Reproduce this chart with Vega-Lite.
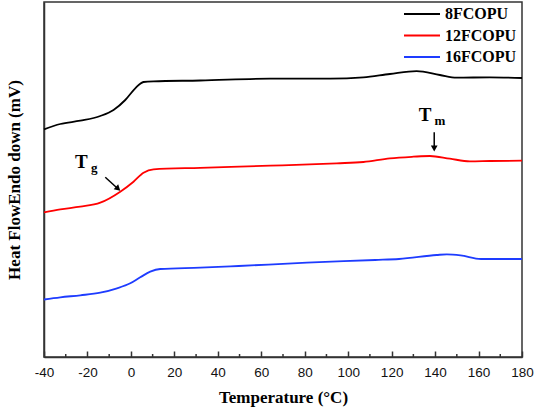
{
  "$schema": "https://vega.github.io/schema/vega-lite/v6.json",
  "autosize": {"type": "none"},
  "padding": {"left": 44, "top": 2, "right": 12, "bottom": 50},
  "width": 478,
  "height": 355,
  "background": "white",
  "config": {
    "view": {"stroke": "#333333", "strokeWidth": 1.5},
    "axis": {"domainColor": "#333333", "tickColor": "#333333", "domainWidth": 1.5, "tickWidth": 1.5, "grid": false}
  },
  "layer": [
    {
      "data": {"values": [
        {"sample": "8FCOPU", "T": -40, "v": 227.7},
        {"sample": "8FCOPU", "T": -32.5, "v": 233},
        {"sample": "8FCOPU", "T": -23.3, "v": 236.3},
        {"sample": "8FCOPU", "T": -14.1, "v": 241},
        {"sample": "8FCOPU", "T": -8.0, "v": 247},
        {"sample": "8FCOPU", "T": -2.6, "v": 257},
        {"sample": "8FCOPU", "T": 2.0, "v": 268.7},
        {"sample": "8FCOPU", "T": 5.8, "v": 275},
        {"sample": "8FCOPU", "T": 10.4, "v": 275.7},
        {"sample": "8FCOPU", "T": 31.9, "v": 276.5},
        {"sample": "8FCOPU", "T": 64.1, "v": 278.3},
        {"sample": "8FCOPU", "T": 91.7, "v": 278.3},
        {"sample": "8FCOPU", "T": 107.0, "v": 279.7},
        {"sample": "8FCOPU", "T": 119.2, "v": 283},
        {"sample": "8FCOPU", "T": 131.5, "v": 285.8},
        {"sample": "8FCOPU", "T": 142.2, "v": 282},
        {"sample": "8FCOPU", "T": 149.9, "v": 279.3},
        {"sample": "8FCOPU", "T": 165.2, "v": 279.7},
        {"sample": "8FCOPU", "T": 180, "v": 279},
        {"sample": "12FCOPU", "T": -40, "v": 144.7},
        {"sample": "12FCOPU", "T": -32.5, "v": 147.7},
        {"sample": "12FCOPU", "T": -23.3, "v": 150.3},
        {"sample": "12FCOPU", "T": -14.1, "v": 154.3},
        {"sample": "12FCOPU", "T": -4.9, "v": 165.3},
        {"sample": "12FCOPU", "T": 1.2, "v": 175.3},
        {"sample": "12FCOPU", "T": 5.8, "v": 184.3},
        {"sample": "12FCOPU", "T": 10.4, "v": 187.7},
        {"sample": "12FCOPU", "T": 31.9, "v": 189.2},
        {"sample": "12FCOPU", "T": 64.1, "v": 191.3},
        {"sample": "12FCOPU", "T": 94.7, "v": 193.7},
        {"sample": "12FCOPU", "T": 107.0, "v": 195},
        {"sample": "12FCOPU", "T": 119.2, "v": 198.7},
        {"sample": "12FCOPU", "T": 130.0, "v": 200.3},
        {"sample": "12FCOPU", "T": 137.6, "v": 201},
        {"sample": "12FCOPU", "T": 146.8, "v": 198.3},
        {"sample": "12FCOPU", "T": 156.0, "v": 195.7},
        {"sample": "12FCOPU", "T": 165.2, "v": 196},
        {"sample": "12FCOPU", "T": 180, "v": 196.3},
        {"sample": "16FCOPU", "T": -40, "v": 57.5},
        {"sample": "16FCOPU", "T": -32.5, "v": 59.7},
        {"sample": "16FCOPU", "T": -23.3, "v": 61.7},
        {"sample": "16FCOPU", "T": -14.1, "v": 64.3},
        {"sample": "16FCOPU", "T": -6.4, "v": 68.7},
        {"sample": "16FCOPU", "T": -0.3, "v": 73.7},
        {"sample": "16FCOPU", "T": 4.3, "v": 79.7},
        {"sample": "16FCOPU", "T": 8.9, "v": 85.3},
        {"sample": "16FCOPU", "T": 13.5, "v": 88},
        {"sample": "16FCOPU", "T": 31.9, "v": 89.3},
        {"sample": "16FCOPU", "T": 49.6, "v": 91},
        {"sample": "16FCOPU", "T": 81.0, "v": 94.3},
        {"sample": "16FCOPU", "T": 112.4, "v": 97},
        {"sample": "16FCOPU", "T": 123.4, "v": 98},
        {"sample": "16FCOPU", "T": 140.7, "v": 102},
        {"sample": "16FCOPU", "T": 145.4, "v": 102.7},
        {"sample": "16FCOPU", "T": 151.7, "v": 101.7},
        {"sample": "16FCOPU", "T": 161.1, "v": 98},
        {"sample": "16FCOPU", "T": 180, "v": 98}
      ]},
      "mark": {"type": "line", "interpolate": "monotone", "strokeWidth": 1.8},
      "encoding": {
        "x": {
          "field": "T", "type": "quantitative",
          "scale": {"domain": [-40, 180], "nice": false, "zero": false},
          "axis": {
            "title": "Temperature (°C)",
            "titleFont": "Liberation Serif", "titleFontSize": 17, "titleFontWeight": "bold", "titleColor": "#000000", "titlePadding": 11,
            "values": [-40, -20, 0, 20, 40, 60, 80, 100, 120, 140, 160, 180],
            "labelExpr": "'' + datum.value",
            "labelFont": "Liberation Sans", "labelFontSize": 13.5, "labelColor": "#111111", "labelPadding": 14,
            "tickSize": -6,
            "labelFlush": false, "labelOverlap": false
          }
        },
        "y": {
          "field": "v", "type": "quantitative",
          "scale": {"domain": [0, 355], "nice": false, "zero": false},
          "axis": {
            "title": "Heat FlowEndo down (mV)",
            "titleFont": "Liberation Serif", "titleFontSize": 17, "titleFontWeight": "bold", "titleColor": "#000000", "titlePadding": 21,
            "labels": false, "ticks": false
          }
        },
        "color": {
          "field": "sample", "type": "nominal",
          "scale": {"domain": ["8FCOPU", "12FCOPU", "16FCOPU"], "range": ["#000000", "#ff0000", "#1e3cff"]},
          "legend": {
            "title": null, "orient": "none", "legendX": 370, "legendY": 4,
            "symbolType": "M-3,0H3", "symbolSize": 144, "symbolStrokeWidth": 2,
            "labelFont": "Liberation Serif", "labelFontSize": 16, "labelFontWeight": "bold", "labelColor": "#000000",
            "rowPadding": 5.5, "labelOffset": 15
          }
        }
      }
    },
    {
      "data": {"values": [
        {"T": -30}, {"T": -10}, {"T": 10}, {"T": 30}, {"T": 50}, {"T": 70}, {"T": 90},
        {"T": 110}, {"T": 130}, {"T": 150}, {"T": 170}
      ]},
      "mark": {"type": "rule", "color": "#333333", "strokeWidth": 1.5},
      "encoding": {
        "x": {"field": "T", "type": "quantitative"},
        "y": {"datum": 0, "type": "quantitative"},
        "y2": {"datum": 3}
      }
    },
    {
      "data": {"values": [
        {"x": -11.8, "y": 179.7, "x2": -5.6, "y2": 167.5},
        {"x": 139.6, "y": 224.7, "x2": 139.6, "y2": 208}
      ]},
      "mark": {"type": "rule", "color": "#000000", "strokeWidth": 1.5},
      "encoding": {
        "x": {"field": "x", "type": "quantitative"},
        "y": {"field": "y", "type": "quantitative"},
        "x2": {"field": "x2"},
        "y2": {"field": "y2"}
      }
    },
    {
      "data": {"values": [
        {"x": -5.9, "y": 168.2, "a": 312},
        {"x": 139.6, "y": 208.5, "a": 0}
      ]},
      "mark": {"type": "point", "shape": "triangle-down", "filled": true, "color": "#000000", "opacity": 1, "size": 45},
      "encoding": {
        "x": {"field": "x", "type": "quantitative"},
        "y": {"field": "y", "type": "quantitative"},
        "angle": {"field": "a", "type": "quantitative", "scale": null}
      }
    },
    {
      "data": {"values": [
        {"x": -22.8, "y": 189, "t": "T", "s": 19},
        {"x": -16.9, "y": 185.5, "t": "g", "s": 13},
        {"x": 135.4, "y": 236, "t": "T", "s": 19},
        {"x": 142.2, "y": 232, "t": "m", "s": 13}
      ]},
      "mark": {"type": "text", "font": "Liberation Serif", "fontWeight": "bold", "color": "#000000", "baseline": "alphabetic", "align": "center"},
      "encoding": {
        "x": {"field": "x", "type": "quantitative"},
        "y": {"field": "y", "type": "quantitative"},
        "text": {"field": "t"},
        "size": {"field": "s", "type": "quantitative", "scale": null}
      }
    }
  ]
}
